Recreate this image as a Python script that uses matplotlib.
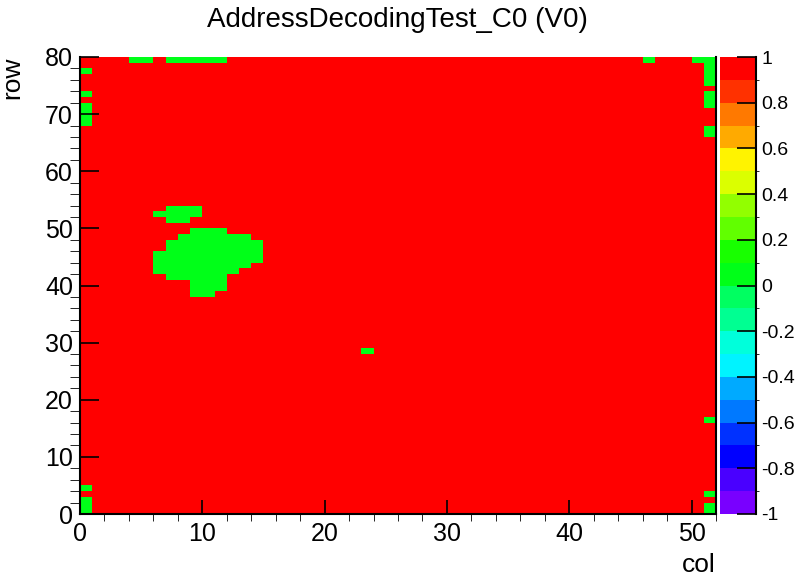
import colorsys
import numpy as np
import matplotlib
matplotlib.use("Agg")
import matplotlib.pyplot as plt
from matplotlib.colors import ListedColormap, BoundaryNorm

plt.rcParams['font.family'] = ['Liberation Sans', 'DejaVu Sans']

n_cols = 52
n_rows = 80

# cells that failed (value 0); everything else is 1
top_row_cols = [4, 5, 7, 8, 9, 10, 11, 46, 50, 51]
col0_rows = [0, 1, 2, 4, 68, 69, 70, 71, 73, 77]
col51_rows = [0, 1, 3, 16, 66, 67, 71, 72, 73, 75, 76, 77, 78, 79]
single_cell = (23, 28)
# blob: (row, first col, last col)
blob_rows = [53, 52, 51, 49, 48, 47, 46, 45, 44, 43, 42, 41, 40, 39, 38]
blob_first = [7, 6, 7, 9, 8, 7, 7, 6, 6, 6, 6, 7, 9, 9, 9]
blob_last = [9, 9, 8, 11, 13, 14, 14, 14, 14, 13, 12, 11, 11, 11, 10]

cbar_ticks = [-1, -0.8, -0.6, -0.4, -0.2, 0, 0.2, 0.4, 0.6, 0.8, 1]

values = np.ones((n_rows, n_cols))
for c in top_row_cols:
    values[79, c] = 0
for r in col0_rows:
    values[r, 0] = 0
for r in col51_rows:
    values[r, 51] = 0
values[single_cell[1], single_cell[0]] = 0
for r, a, b in zip(blob_rows, blob_first, blob_last):
    values[r, a:b + 1] = 0

# ROOT-like rainbow palette, 20 contour levels
pal = [colorsys.hsv_to_rgb((280 - i * 280 / 49) / 360, 1, 1) for i in range(50)]
colors = [pal[int(0.01 + (k + 0.99) * 50 / 20)] for k in range(20)]
cmap = ListedColormap(colors)
norm = BoundaryNorm(np.linspace(-1, 1, 21), cmap.N)

W, H = 796, 572
fig = plt.figure(figsize=(W / 100, H / 100), dpi=100)
ax = fig.add_axes([80 / W, 1 - 514 / H, 636 / W, 457 / H])
cax = fig.add_axes([720 / W, 1 - 514 / H, 36 / W, 457 / H])

mesh = ax.pcolormesh(np.arange(n_cols + 1), np.arange(n_rows + 1), values,
                     cmap=cmap, norm=norm)
ax.set_xlim(0, n_cols)
ax.set_ylim(0, n_rows)
ax.set_xticks(np.arange(0, 51, 10))
ax.set_xticks(np.arange(0, 53, 2), minor=True)
ax.set_yticks(np.arange(0, 81, 10))
ax.set_yticks(np.arange(0, 81, 2), minor=True)
ax.tick_params(direction='in', labelsize=18, width=1.2)
ax.tick_params(axis='x', which='major', length=10, pad=6)
ax.tick_params(axis='x', which='minor', length=5)
ax.tick_params(axis='y', which='major', length=14, pad=5)
ax.tick_params(axis='y', which='minor', length=7)
ax.spines['top'].set_visible(False)
for s in ['left', 'bottom', 'right']:
    ax.spines[s].set_linewidth(1.5)

cbar = fig.colorbar(mesh, cax=cax, ticks=cbar_ticks)
cbar.outline.set_visible(False)
cax.axvline(1, color='black', lw=1.5, clip_on=False)
cax.set_yticklabels(['%g' % t for t in cbar_ticks])
cax.tick_params(direction='in', length=14, width=1.2, labelsize=14, pad=4)

fig.text(397 / W, 1 - 20 / H, 'AddressDecodingTest_C0 (V0)', ha='center', va='center', fontsize=20)
fig.text(716 / W, 1 - 553 / H, 'col', ha='right', va='top', fontsize=19)
fig.text(0 / W, 1 - 57 / H, 'row', ha='left', va='top', rotation=90, fontsize=19)

fig.savefig('out.png', dpi=100)
